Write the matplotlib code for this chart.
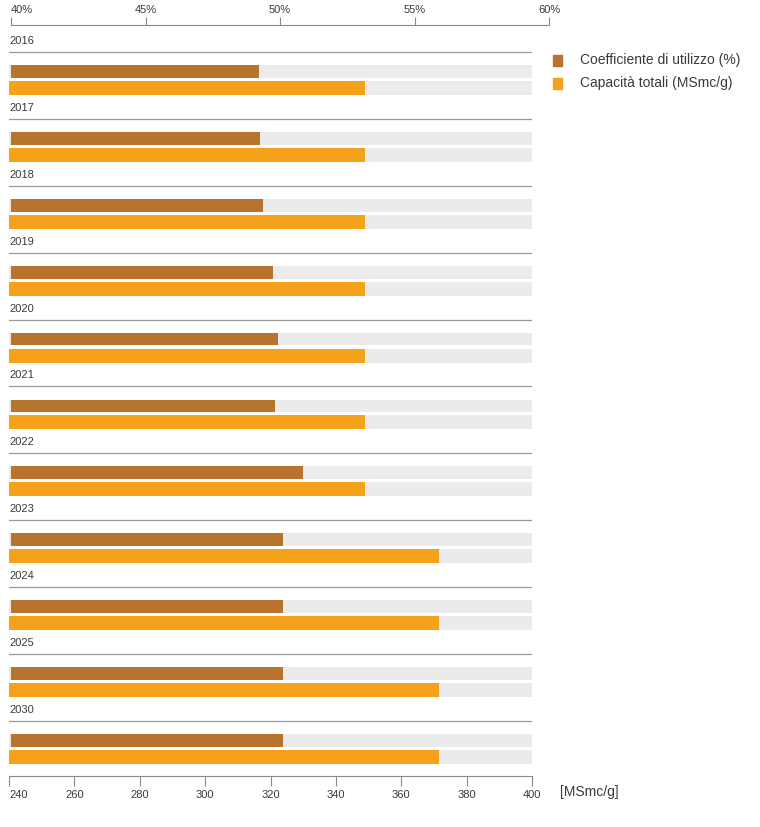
import matplotlib
matplotlib.use('Agg')
import matplotlib.pyplot as plt
import matplotlib.patches as patches
import numpy as np

# dati
anni = ['2016', '2017', '2018', '2019', '2020', '2021', '2022', '2023', '2024', '2025', '2030']
coefficiente = [49.22, 49.26, 49.36, 49.75, 49.94, 49.81, 50.84, 50.1, 50.1, 50.1, 50.1]  # %
capacita = [349, 349, 349, 349, 349, 349, 349, 371.5, 371.5, 371.5, 371.5]  # MSmc/g

tick_cap = [240, 260, 280, 300, 320, 340, 360, 380, 400]
tick_pct = [40, 45, 50, 55, 60]
tick_pct_lab = ['40%', '45%', '50%', '55%', '60%']

col_marrone = '#b8732c'
col_arancio = '#f5a11c'
col_grigio = '#ebebeb'
col_testo = '#3a3a3a'
col_linea = '#8a8a8a'

plt.rcParams['font.family'] = ['Liberation Sans', 'DejaVu Sans']

W, H = 760, 827
fig = plt.figure(figsize=(7.6, 8.27), dpi=100)
# asse capacita (in basso) e asse percentuale (in alto), scale diverse
ax = fig.add_axes([9 / W, 1 - 776 / H, (532 - 9) / W, (776 - 25) / H])
ax2 = fig.add_axes([11 / W, 1 - 776 / H, (549 - 11) / W, (776 - 25) / H])
ax2.patch.set_alpha(0)

ax.set_xlim(240, 400)
ax2.set_xlim(40, 60)
ax.set_ylim(10.99, -0.24)
ax2.set_ylim(10.99, -0.24)

y = np.arange(len(anni))
h_m = 0.19
h_a = 0.21

# sfondo grigio
ax.barh(y + 0.456, [400 - 240] * len(anni), left=240, height=h_m, color=col_grigio, zorder=1)
ax.barh(y + 0.703, [400 - 240] * len(anni), left=240, height=h_a, color=col_grigio, zorder=1)

# barre
ax.barh(y + 0.703, np.array(capacita) - 240, left=240, height=h_a, color=col_arancio, zorder=2)
ax2.barh(y + 0.456, np.array(coefficiente) - 40, left=40, height=h_m, color=col_marrone, zorder=2)

for i in range(len(anni)):
    ax.text(240, y[i], anni[i], fontsize=8, color=col_testo, va='center', ha='left')
    ax.plot([240, 400], [y[i] + 0.164, y[i] + 0.164], color='#9a9a9a', lw=0.9, zorder=3)

for s in ['left', 'right', 'top']:
    ax.spines[s].set_visible(False)
for s in ['left', 'right', 'bottom']:
    ax2.spines[s].set_visible(False)
ax.spines['bottom'].set_color(col_linea)
ax2.spines['top'].set_color(col_linea)

ax.set_yticks([])
ax2.set_yticks([])
ax.set_xticks(tick_cap)
ax.set_xticklabels([str(t) for t in tick_cap])
ax2.xaxis.tick_top()
ax2.set_xticks(tick_pct)
ax2.set_xticklabels(tick_pct_lab)
ax.tick_params(axis='x', direction='out', length=7.5, color=col_linea, labelsize=8, labelcolor=col_testo, pad=2.5)
ax2.tick_params(axis='x', direction='out', length=5.5, color=col_linea, labelsize=8, labelcolor=col_testo, pad=2)
ax2.get_xticklabels()[0].set_horizontalalignment('left')
ax.get_xticklabels()[0].set_horizontalalignment('left')

# legenda
fig.patches.append(patches.Rectangle((553 / W, 1 - 66 / H), 9 / W, 11 / H,
                                     transform=fig.transFigure, color=col_marrone))
fig.patches.append(patches.Rectangle((553 / W, 1 - 89 / H), 9 / W, 11 / H,
                                     transform=fig.transFigure, color=col_arancio))
fig.text(580 / W, 1 - 60 / H, 'Coefficiente di utilizzo (%)', fontsize=10, color=col_testo, va='center')
fig.text(580 / W, 1 - 83 / H, 'Capacità totali (MSmc/g)', fontsize=10, color=col_testo, va='center')
fig.text(560 / W, 1 - 792 / H, '[MSmc/g]', fontsize=10, color=col_testo, va='center')

plt.savefig('out.png', dpi=100)
